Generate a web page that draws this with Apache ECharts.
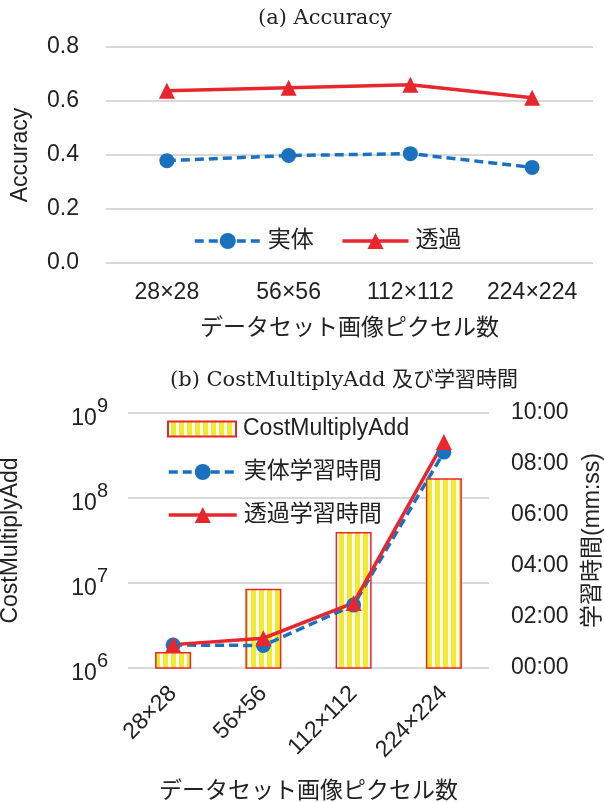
<!DOCTYPE html>
<html>
<head>
<meta charset="utf-8">
<script src="https://cdn.jsdelivr.net/npm/echarts@6/dist/echarts.min.js"></script>
<style>
  html, body { margin: 0; padding: 0; background: #fff; }
  #chart { width: 604px; height: 802px; }
</style>
</head>
<body>
<div id="chart"></div>
<script>
// categories (dataset image pixel size)
const categories = ["28×28", "56×56", "112×112", "224×224"];

// (a) accuracy
const accSolid = [0.379, 0.398, 0.405, 0.354];
const accTrans = [0.638, 0.649, 0.660, 0.612];
const accTicks = [0, 0.2, 0.4, 0.6, 0.8];

// (b) cost and training time (seconds)
const costMultiplyAdd = [1.54e6, 8.55e6, 3.97e7, 1.71e8];
const timeSolid = [54, 53, 148, 508];
const timeTrans = [55, 70, 153, 532];
const timeTicks = [0, 120, 240, 360, 480, 600];

const SANS = "'Liberation Sans', 'Noto Sans CJK JP', sans-serif";
const SERIF = "'DejaVu Serif', 'Noto Sans CJK JP', serif";
const TXT = "#222";
const BLUE = "#1a72bf";
const RED = "#e8262e";

// 縦縞パターン（黄色／白）
const stripe = document.createElement("canvas");
stripe.width = 8;
stripe.height = 8;
const sctx = stripe.getContext("2d");
sctx.fillStyle = "#ffffff";
sctx.fillRect(0, 0, 8, 8);
sctx.fillStyle = "#f1e92b";
sctx.fillRect(3, 0, 5, 8);

const mmss = (v) => {
  const m = Math.floor(v / 60);
  const s = Math.round(v % 60);
  return String(m).padStart(2, "0") + ":" + String(s).padStart(2, "0");
};

const legendText = { fontFamily: SANS, fontSize: 23, color: TXT, lineHeight: 24, padding: [0, 0, 0, 2] };

const chart = echarts.init(document.getElementById("chart"));

const option = {
  animation: false,
  textStyle: { fontFamily: SANS },
  title: [
    {
      text: "(a) Accuracy",
      left: 258,
      top: 8,
      padding: 0,
      textStyle: { fontFamily: SERIF, fontSize: 21, fontWeight: "normal", color: TXT },
    },
    {
      text: "(b) CostMultiplyAdd 及び学習時間",
      left: 170,
      top: 370,
      padding: 0,
      textStyle: { fontFamily: SERIF, fontSize: 21, fontWeight: "normal", color: TXT },
    },
  ],
  legend: [
    {
      data: ["実体", "透過"],
      left: 188,
      top: 224,
      itemWidth: 66,
      itemHeight: 20,
      itemGap: 27,
      lineStyle: { width: 3.5 },
      textStyle: legendText,
    },
    {
      data: [{ name: "CostMultiplyAdd", icon: "rect" }],
      left: 162,
      top: 412,
      itemWidth: 68,
      itemHeight: 15,
      textStyle: legendText,
    },
    {
      data: ["実体学習時間", "透過学習時間"],
      orient: "vertical",
      left: 162,
      top: 455,
      itemWidth: 68,
      itemHeight: 20,
      itemGap: 19,
      lineStyle: { width: 3.5 },
      textStyle: legendText,
    },
  ],
  grid: [
    { left: 106, right: 11, top: 47, height: 216, outerBoundsMode: "none" },
    { left: 128, right: 115, top: 413, height: 255, outerBoundsMode: "none" },
  ],
  xAxis: [
    {
      type: "category",
      gridIndex: 0,
      data: categories,
      axisLine: { show: false },
      axisTick: { show: false },
      axisLabel: { fontSize: 23, color: TXT, margin: 18 },
      name: "データセット画像ピクセル数",
      nameLocation: "middle",
      nameGap: 54,
      nameTextStyle: { fontSize: 23, color: TXT },
    },
    {
      type: "category",
      gridIndex: 1,
      data: categories,
      axisLine: { show: false },
      axisTick: { show: false },
      axisLabel: { fontSize: 23, color: TXT, margin: 22, rotate: 45 },
      name: "データセット画像ピクセル数",
      nameLocation: "middle",
      nameGap: 112,
      nameTextStyle: { fontSize: 23, color: TXT },
    },
  ],
  yAxis: [
    {
      type: "value",
      gridIndex: 0,
      min: accTicks[0],
      max: accTicks[accTicks.length - 1],
      interval: 0.2,
      axisLine: { show: false },
      axisTick: { show: false },
      axisLabel: { fontSize: 23, color: TXT, margin: 27, formatter: (v) => v.toFixed(1) },
      splitLine: { lineStyle: { color: "#d9d9d9", width: 2 } },
      name: "Accuracy",
      nameLocation: "middle",
      nameGap: 74,
      nameTextStyle: { fontSize: 23, color: TXT },
    },
    {
      type: "log",
      gridIndex: 1,
      logBase: 10,
      min: 1e6,
      max: 1e9,
      axisLine: { show: false },
      axisTick: { show: false },
      axisLabel: {
        color: TXT,
        margin: 20,
        formatter: (v) => "{b|10}{s|" + Math.round(Math.log10(v)) + "}",
        rich: {
          b: { fontSize: 23, color: TXT, verticalAlign: "bottom", lineHeight: 34 },
          s: { fontSize: 20, color: TXT, verticalAlign: "top", lineHeight: 34 },
        },
      },
      splitLine: { lineStyle: { color: "#d9d9d9", width: 2 } },
      name: "CostMultiplyAdd",
      nameLocation: "middle",
      nameGap: 106,
      nameTextStyle: { fontSize: 23, color: TXT },
    },
    {
      type: "value",
      gridIndex: 1,
      position: "right",
      min: timeTicks[0],
      max: timeTicks[timeTicks.length - 1],
      interval: 120,
      axisLine: { show: false },
      axisTick: { show: false },
      axisLabel: { fontSize: 23, color: TXT, margin: 22, formatter: mmss },
      splitLine: { show: false },
      name: "学習時間(mm:ss)",
      nameLocation: "middle",
      nameRotate: 90,
      nameGap: 92,
      nameTextStyle: { fontSize: 23, color: TXT },
    },
  ],
  series: [
    {
      name: "実体",
      type: "line",
      xAxisIndex: 0,
      yAxisIndex: 0,
      data: accSolid,
      symbol: "circle",
      symbolSize: 15,
      itemStyle: { color: BLUE },
      lineStyle: { color: BLUE, width: 3.5, type: [9, 5] },
    },
    {
      name: "透過",
      type: "line",
      xAxisIndex: 0,
      yAxisIndex: 0,
      data: accTrans,
      symbol: "triangle",
      symbolSize: 16,
      itemStyle: { color: RED },
      lineStyle: { color: RED, width: 3.5 },
    },
    {
      name: "CostMultiplyAdd",
      type: "bar",
      xAxisIndex: 1,
      yAxisIndex: 1,
      data: costMultiplyAdd,
      barWidth: 36,
      itemStyle: {
        color: { image: stripe, repeat: "repeat" },
        borderColor: RED,
        borderWidth: 1.5,
      },
    },
    {
      name: "実体学習時間",
      type: "line",
      xAxisIndex: 1,
      yAxisIndex: 2,
      data: timeSolid,
      symbol: "circle",
      symbolSize: 15,
      itemStyle: { color: BLUE },
      lineStyle: { color: BLUE, width: 3.5, type: [9, 5] },
    },
    {
      name: "透過学習時間",
      type: "line",
      xAxisIndex: 1,
      yAxisIndex: 2,
      data: timeTrans,
      symbol: "triangle",
      symbolSize: 16,
      itemStyle: { color: RED },
      lineStyle: { color: RED, width: 3.5 },
    },
  ],
};

chart.setOption(option);
</script>
</body>
</html>
